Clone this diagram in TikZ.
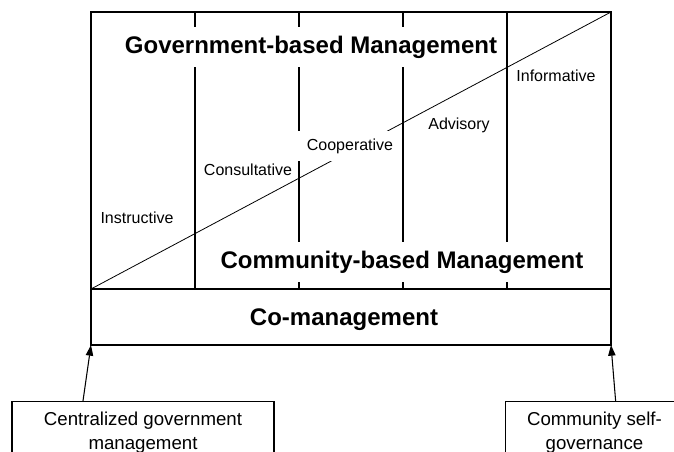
\documentclass[tikz,border=0pt]{standalone}
\usepackage{fontspec}
\setmainfont{Liberation Sans}
\usetikzlibrary{arrows.meta,calc}

\begin{document}
\begin{tikzpicture}[x=0.75pt,y=-0.75pt,>={Triangle[length=8pt,width=5.5pt]},line width=0.8pt,
        big/.style={font=\fontsize{18}{22}\selectfont\bfseries,fill=white,
          inner xsep=2pt,inner ysep=6.5pt},
        small/.style={font=\fontsize{12}{14}\selectfont},
        lowbox/.style={draw,anchor=north,align=center,
          font=\fontsize{14}{18}\selectfont,inner ysep=8pt,text depth=60pt}]

  \clip (0,0) rectangle (674,452);

  \draw (91,12) rectangle (611,345);
  \draw (91,289) -- (611,289);
  \foreach \i in {1,...,4}
    \draw ({91+104*\i},12) -- ({91+104*\i},289);
  \draw[line width=0.6pt] (91,289) -- (611,12);
  \coordinate (cl) at (91,345);
  \coordinate (cr) at (611,345);

  \node[big] (gov) at (311,47) {Government-based Management};
  \node[big] (comm) at (402,262) {Community-based Management};
  \node[big,fill=none] (co) at (344,320) {Co-management};

  \node[small] (ins) at (137,218) {Instructive};
  \node[small] (cons) at (248,170) {Consultative};
  \node[small,fill=white,minimum width=78pt,minimum height=22.5pt] (coop) at (350,146) {Cooperative};
  \node[small] (adv) at (459,125) {Advisory};
  \node[small] (inf) at (556,76) {Informative};

  \node[lowbox,minimum width=196.5pt] (cgm) at (143,401) {Centralized government\\management};
  \node[lowbox,minimum width=134pt] (csg) at (594.5,401) {Community self-\\governance};

  \draw[->] ($(cgm.north west)+(71.5,0)$) -- (cl);
  \draw[->] ($(csg.north west)+(111,0)$) -- (cr);

\end{tikzpicture}
\end{document}
